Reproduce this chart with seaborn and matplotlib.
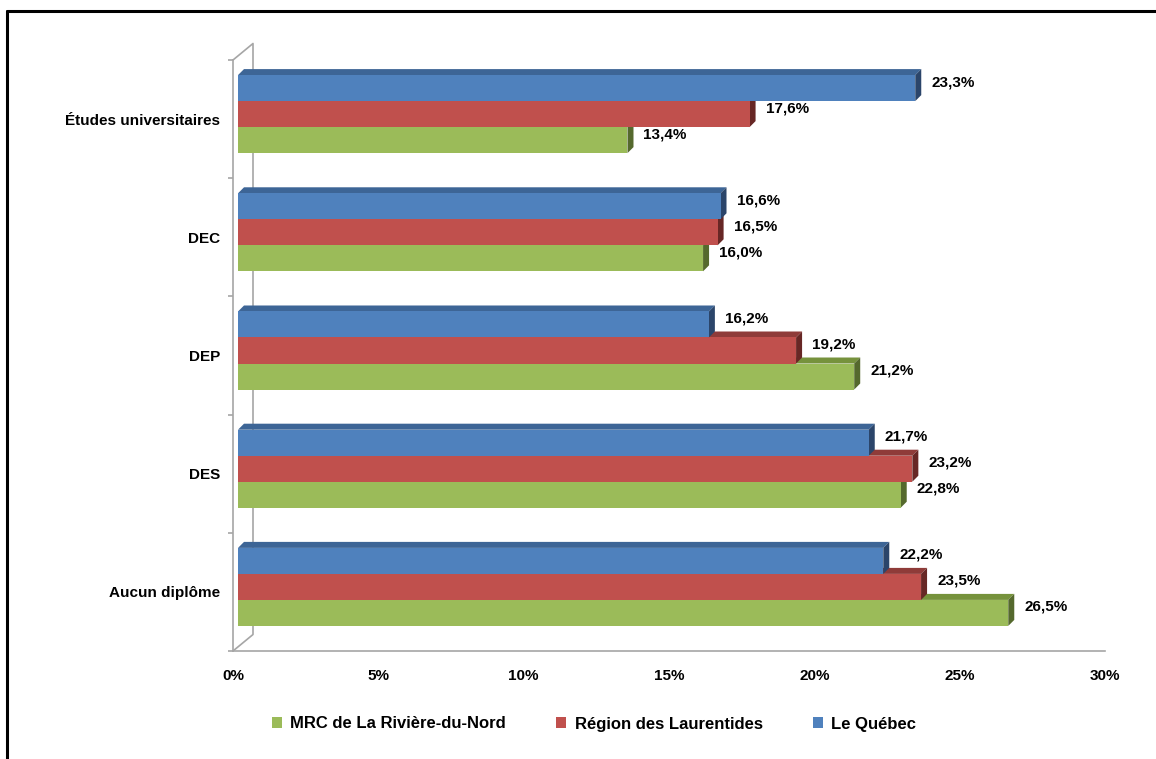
import pandas as pd
import matplotlib.pyplot as plt
import seaborn as sns
from matplotlib.patches import Polygon, Patch
from matplotlib.lines import Line2D
from matplotlib.transforms import ScaledTranslation

# Data
categories = ['Études universitaires', 'DEC', 'DEP', 'DES', 'Aucun diplôme']
series = ['MRC de La Rivière-du-Nord', 'Région des Laurentides', 'Le Québec']
mrc_values = [13.4, 16.0, 21.2, 22.8, 26.5]
region_values = [17.6, 16.5, 19.2, 23.2, 23.5]
quebec_values = [23.3, 16.6, 16.2, 21.7, 22.2]
x_ticks = [0, 5, 10, 15, 20, 25, 30]

# Colours: front face, top face, side face
front_colors = {series[0]: '#9bbb59', series[1]: '#c0504d', series[2]: '#4f81bd'}
top_colors = {series[0]: '#76923c', series[1]: '#8f3b39', series[2]: '#3d6596'}
side_colors = {series[0]: '#55692d', series[1]: '#672725', series[2]: '#2b456a'}

GRAY = '#a6a6a6'
DPI = 100


def build_frame():
    rows = []
    for name, vals in zip(series, [mrc_values, region_values, quebec_values]):
        for cat, v in zip(categories, vals):
            rows.append({'Catégorie': cat, 'Série': name, 'Valeur': v})
    return pd.DataFrame(rows)


def fmt_pct(v):
    return f'{v:.1f}'.replace('.', ',') + '%'


def main():
    df = build_frame()

    sns.set_style('white')
    plt.rcParams['font.family'] = ['Liberation Sans', 'DejaVu Sans']
    plt.rcParams['font.weight'] = 'bold'
    plt.rcParams['text.color'] = 'black'
    plt.rcParams['xtick.labelcolor'] = 'black'
    plt.rcParams['ytick.labelcolor'] = 'black'

    fig = plt.figure(figsize=(11.56, 7.59), dpi=DPI)
    ax = fig.add_axes([233 / 1156, 1 - 651 / 759, 872 / 1156, 591 / 759])

    # Québec on top in each group, MRC at the bottom
    hue_order = [series[2], series[1], series[0]]
    sns.barplot(data=df, x='Valeur', y='Catégorie', hue='Série', order=categories,
                hue_order=hue_order, palette=front_colors, orient='h', width=0.66,
                saturation=1, linewidth=0, errorbar=None, legend=False, ax=ax)

    n = len(categories)
    shift = 5 / 118.2  # bars sit a bit above the category centre (3D look)
    ax.set_xlim(x_ticks[0], x_ticks[-1])
    ax.set_ylim(n - 0.5 + shift, -0.5 + shift)

    # pixel -> data conversion for the 3D depth
    p0 = ax.transData.transform((0, 0))
    px_x = ax.transData.transform((1, 0))[0] - p0[0]
    px_y = abs(ax.transData.transform((0, 1))[1] - p0[1])
    depth = 6
    ddx = depth / px_x
    ddy = depth / px_y
    trans = ax.transData + ScaledTranslation(5 / DPI, 0, fig.dpi_scale_trans)

    for container, name in zip(ax.containers, hue_order):
        for bar in container:
            x0 = bar.get_x()
            x1 = x0 + bar.get_width()
            yt = bar.get_y()
            yb = yt + bar.get_height()
            z = 3 + (n - yt) * 0.5
            bar.set_transform(trans)
            bar.set_zorder(z + 0.02)
            top = Polygon([(x0, yt), (x1, yt), (x1 + ddx, yt - ddy), (x0 + ddx, yt - ddy)],
                          closed=True, facecolor=top_colors[name], edgecolor='none',
                          transform=trans, zorder=z)
            side = Polygon([(x1, yt), (x1 + ddx, yt - ddy), (x1 + ddx, yb - ddy), (x1, yb)],
                           closed=True, facecolor=side_colors[name], edgecolor='none',
                           transform=trans, zorder=z + 0.01)
            ax.add_patch(top)
            ax.add_patch(side)
            ax.annotate(fmt_pct(bar.get_width()), xy=(x1, (yt + yb) / 2),
                        xytext=(21 * 72 / DPI, 6 * 72 / DPI), textcoords='offset points',
                        ha='left', va='center', fontsize=11, fontweight='bold',
                        color='black', zorder=20)

    # back wall / floor edges of the 3D box
    dxa = 20 / 872
    dya = 16.5 / 591
    ax.plot([0, dxa, dxa, 0], [1, 1 + dya, dya, 0], transform=ax.transAxes,
            color=GRAY, lw=1.2, clip_on=False, zorder=1)

    # axes styling
    for s in ['top', 'right']:
        ax.spines[s].set_visible(False)
    for s in ['left', 'bottom']:
        ax.spines[s].set_color(GRAY)
        ax.spines[s].set_linewidth(1.2)

    ax.set_xticks(x_ticks)
    ax.set_xticklabels([f'{t}%' for t in x_ticks], fontsize=11, fontweight='bold')
    ax.tick_params(axis='x', direction='out', length=4.3, width=1.2, color=GRAY,
                   pad=9, labelcolor='black')

    ax.set_yticks([k + shift for k in range(n)])
    ax.set_yticklabels(categories, fontsize=11, fontweight='bold')
    ax.set_yticks([k - 0.5 + shift for k in range(n + 1)], minor=True)
    ax.tick_params(axis='y', which='major', length=0, pad=9.4, labelcolor='black')
    ax.tick_params(axis='y', which='minor', direction='out', length=3.6, width=1.2,
                   color=GRAY, left=True)
    ax.set_xlabel('')
    ax.set_ylabel('')
    ax.grid(False)

    # legend (MRC, Région, Québec)
    handles = [Patch(facecolor=front_colors[s], edgecolor='none') for s in series]
    leg = fig.legend(handles, series, loc='center',
                     bbox_to_anchor=(594 / 1156, 1 - 724 / 759),
                     ncol=3, frameon=False, prop={'weight': 'bold', 'size': 12},
                     handlelength=0.6, handleheight=0.6, handletextpad=0.5,
                     columnspacing=3.0)
    for t in leg.get_texts():
        t.set_color('black')

    # frame of the chart area (top and left visible)
    fig.add_artist(Line2D([6.5 / 1156, 1], [1 - 10.5 / 759, 1 - 10.5 / 759],
                          transform=fig.transFigure, color='black', lw=2.2))
    fig.add_artist(Line2D([6.5 / 1156, 6.5 / 1156], [0, 1 - 10.5 / 759],
                          transform=fig.transFigure, color='black', lw=2.2))

    fig.savefig('out.png', dpi=DPI, facecolor='white')


if __name__ == '__main__':
    main()
